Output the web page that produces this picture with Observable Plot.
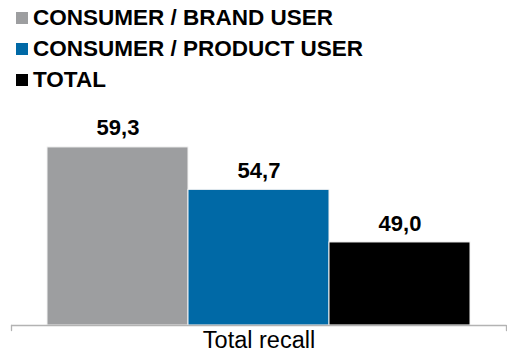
<!DOCTYPE html>
<html>
<head>
<meta charset="utf-8">
<script src="https://cdn.jsdelivr.net/npm/d3@7"></script>
<script src="https://cdn.jsdelivr.net/npm/@observablehq/plot@0.6"></script>
<style>
  html, body { margin: 0; padding: 0; background: #fff; }
  body { width: 507px; height: 355px; overflow: hidden; font-family: "Liberation Sans", Arial, sans-serif; }
  #legend { position: absolute; left: 16px; top: 2px; }
  .row { display: flex; align-items: center; height: 31px; font-weight: bold; font-size: 22.5px; color: #000; }
  .sw { width: 12px; height: 12px; margin-right: 5px; flex: none; }
  #chart { position: absolute; left: 0; top: 105px; }
</style>
</head>
<body>
<div id="legend"></div>
<div id="chart"></div>
<script>
const categories = ["Total recall"];
const series = ["CONSUMER / BRAND USER", "CONSUMER / PRODUCT USER", "TOTAL"];
const values = [59.3, 54.7, 49.0];
const colors = ["#9d9ea0", "#0069a6", "#000000"];
const yMin = 40, yMax = 62;

const data = series.map((s, i) => ({category: categories[0], series: s, value: values[i]}));
const fmt = v => d3.format(".1f")(v).replace(".", ",");

const legend = document.getElementById("legend");
series.forEach((s, i) => {
  const row = document.createElement("div");
  row.className = "row";
  const sw = document.createElement("span");
  sw.className = "sw";
  sw.style.background = colors[i];
  row.appendChild(sw);
  row.appendChild(document.createTextNode(s));
  legend.appendChild(row);
});

const tickShape = {draw(context, l) { context.moveTo(0, 0); context.lineTo(0, -l); }};

const chart = Plot.plot({
  width: 507,
  height: 250,
  marginLeft: 11,
  marginRight: 1,
  marginTop: 17,
  marginBottom: 30,
  style: {fontFamily: "Liberation Sans, Arial, sans-serif", background: "#fff"},
  fx: {domain: categories, padding: 0, label: null},
  x: {domain: series, paddingInner: 0, paddingOuter: 0.255, axis: null},
  y: {domain: [yMin, yMax], axis: null},
  color: {domain: series, range: colors},
  marks: [
    Plot.axisFx({anchor: "bottom", tickSize: 0, tickPadding: 6, fontSize: 23.5, fill: "#000", label: null}),
    Plot.barY(data, {fx: "category", x: "series", y1: yMin, y2: "value", fill: "series", stroke: "#f4f4f4", strokeWidth: 1}),
    Plot.text(data, {fx: "category", x: "series", y: "value", text: d => fmt(d.value), dy: -19, fontSize: 22, fontWeight: "bold", fill: "#000"}),
    Plot.ruleY([yMin], {stroke: "#b3b3b3", strokeWidth: 1.3}),
    Plot.vector([0], {frameAnchor: "bottom-left", length: 5, rotate: 180, anchor: "start", shape: tickShape, stroke: "#b3b3b3", strokeWidth: 1.3}),
    Plot.vector([0], {frameAnchor: "bottom-right", length: 5, rotate: 180, anchor: "start", shape: tickShape, stroke: "#b3b3b3", strokeWidth: 1.3})
  ]
});
document.getElementById("chart").appendChild(chart);
</script>
</body>
</html>
